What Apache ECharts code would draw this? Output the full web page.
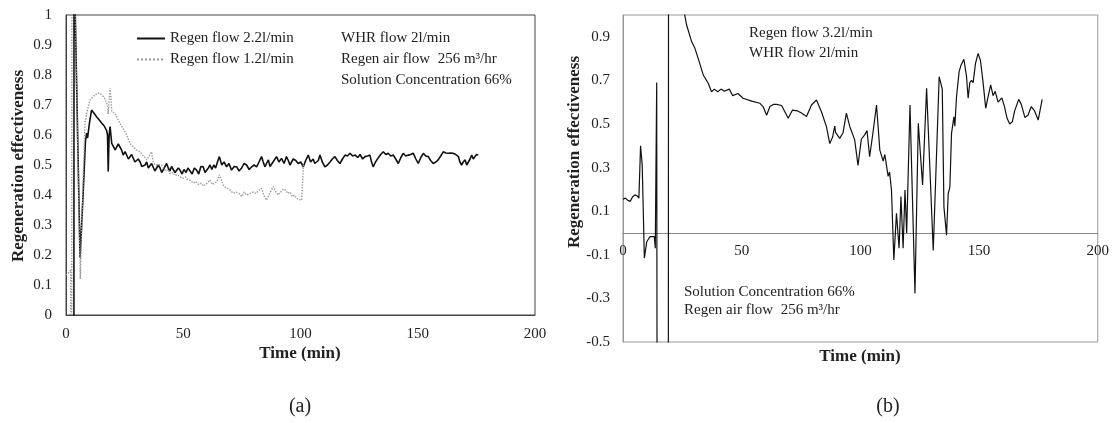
<!DOCTYPE html>
<html>
<head>
<meta charset="utf-8">
<script src="https://cdn.jsdelivr.net/npm/echarts@6/dist/echarts.min.js"></script>
<style>
html, body { margin: 0; padding: 0; background: #fff; }
#chart { width: 1112px; height: 423px; }
</style>
</head>
<body>
<div id="chart"></div>
<script>
// (a) regen flow 2.2 l/min
var flow22Time = [3.3, 3.45, 3.9, 6.0, 7.4, 8.3, 8.8, 9.2, 10.0, 10.9, 11.4, 12.2, 13.1, 14.2, 15.2, 16.3, 17.3, 17.7, 18.0, 18.4,
    18.8, 19.5, 20.2, 21.0, 21.6, 22.3, 23.0, 23.7, 24.4, 25.2, 25.9, 26.6, 27.3, 28.0, 28.7, 29.4, 30.1, 30.8, 31.6, 32.3,
    33.0, 33.7, 34.4, 35.1, 35.8, 36.5, 37.2, 37.9, 38.7, 39.4, 40.1, 40.8, 41.5, 42.2, 42.9, 43.6, 44.3, 45.0, 45.8, 46.5,
    47.2, 47.9, 48.6, 49.5, 50.3, 51.2, 52.0, 52.9, 53.8, 54.7, 55.7, 56.6, 57.5, 58.5, 59.3, 60.0, 60.7, 61.4, 62.2, 63.0,
    63.8, 64.6, 65.4, 66.4, 67.4, 68.5, 69.5, 70.6, 71.7, 72.8, 73.8, 74.9, 75.9, 77.0, 78.1, 79.2, 80.2, 81.3, 82.3, 83.4,
    84.1, 84.8, 85.5, 86.3, 87.0, 87.7, 88.7, 89.8, 90.8, 91.9, 93.0, 94.0, 94.8, 95.5, 96.2, 96.9, 98.0, 99.0, 100.1, 101.2,
    102.2, 103.3, 104.3, 105.4, 106.1, 106.9, 107.6, 108.3, 109.3, 110.4, 111.5, 112.6, 113.6, 114.7, 115.7, 116.8, 117.9, 119.0, 120.0, 121.1,
    122.2, 123.3, 124.4, 125.4, 126.5, 127.5, 128.6, 129.6, 130.3, 131.0, 132.0, 133.0, 134.2, 135.3, 136.4, 137.4, 138.5, 139.6, 140.6, 141.7,
    142.8, 143.8, 144.9, 146.0, 147.0, 148.1, 149.2, 150.2, 151.3, 152.4, 153.4, 154.5, 155.5, 156.6, 157.7, 158.7, 159.8, 160.9, 162.0, 163.0,
    164.0, 165.1, 166.2, 167.3, 168.0, 168.7, 169.4, 170.2, 170.9, 171.6, 172.3, 173.0, 173.7, 174.4, 175.1, 175.8];
var flow22Eff = [-3, 2.5, 1.02, 0.19, 0.42, 0.58, 0.606, 0.59, 0.64, 0.683, 0.68, 0.67, 0.66, 0.65, 0.64, 0.63, 0.615, 0.6, 0.478, 0.6,
    0.628, 0.572, 0.575, 0.55, 0.56, 0.57, 0.572, 0.55, 0.533, 0.545, 0.54, 0.52, 0.517, 0.535, 0.53, 0.51, 0.505, 0.52, 0.51, 0.495,
    0.489, 0.5, 0.51, 0.49, 0.49, 0.505, 0.5, 0.48, 0.483, 0.5, 0.49, 0.475, 0.48, 0.495, 0.505, 0.49, 0.48, 0.495, 0.49, 0.475,
    0.48, 0.49, 0.483, 0.47, 0.485, 0.475, 0.49, 0.48, 0.47, 0.49, 0.483, 0.47, 0.495, 0.494, 0.475, 0.478, 0.49, 0.5, 0.485, 0.5,
    0.49, 0.51, 0.528, 0.5, 0.51, 0.494, 0.505, 0.483, 0.495, 0.494, 0.48, 0.49, 0.505, 0.5, 0.485, 0.494, 0.5, 0.494, 0.51, 0.528,
    0.51, 0.494, 0.505, 0.517, 0.495, 0.5, 0.515, 0.528, 0.51, 0.522, 0.505, 0.528, 0.515, 0.5, 0.51, 0.52, 0.515, 0.505, 0.51, 0.494,
    0.515, 0.533, 0.51, 0.52, 0.505, 0.5, 0.515, 0.533, 0.51, 0.494, 0.5, 0.51, 0.52, 0.528, 0.515, 0.505, 0.52, 0.533, 0.53, 0.539,
    0.53, 0.533, 0.525, 0.535, 0.52, 0.528, 0.53, 0.533, 0.51, 0.494, 0.51, 0.522, 0.535, 0.544, 0.535, 0.539, 0.53, 0.533, 0.52, 0.505,
    0.525, 0.539, 0.53, 0.533, 0.535, 0.539, 0.52, 0.505, 0.525, 0.539, 0.53, 0.528, 0.515, 0.505, 0.51, 0.517, 0.53, 0.544, 0.54, 0.539,
    0.54, 0.539, 0.535, 0.528, 0.51, 0.5, 0.51, 0.517, 0.5, 0.505, 0.52, 0.533, 0.52, 0.528, 0.535, 0.533];

// (a) regen flow 1.2 l/min
var flow12Time = [0, 1.0, 2.0, 2.3, 2.6, 3.9, 6.1, 7.0, 8.1, 8.8, 10.2, 11.6, 12.5, 13.5, 14.5, 15.2, 15.9, 16.6, 17.3, 17.7,
    18.0, 18.4, 18.8, 19.2, 19.5, 20.2, 20.9, 21.6, 22.3, 23.0, 23.7, 24.4, 25.2, 25.9, 26.6, 27.3, 28.0, 28.7, 29.4, 30.1,
    30.8, 31.6, 32.3, 33.0, 33.7, 34.4, 35.1, 35.8, 36.5, 37.2, 37.9, 38.7, 39.4, 40.1, 40.8, 41.5, 42.5, 43.5, 44.5, 45.5,
    46.5, 47.5, 48.6, 49.7, 50.9, 52.0, 53.1, 54.3, 55.4, 56.6, 57.7, 58.5, 59.3, 60.3, 61.4, 62.4, 63.4, 64.4, 65.4, 66.0,
    66.7, 67.4, 68.4, 69.9, 71.3, 72.5, 73.8, 75.0, 76.0, 77.0, 78.5, 79.9, 81.0, 82.2, 83.4, 84.3, 85.5, 86.5, 87.5, 88.4,
    89.5, 90.5, 91.6, 92.7, 93.8, 94.6, 95.5, 96.5, 97.4, 98.3, 99.2, 100.0, 100.5, 101.2, 101.3];
var flow12Eff = [0.133, 0.14, 0.15, -2, 2.5, 1.0, 0.12, 0.38, 0.64, 0.67, 0.717, 0.728, 0.735, 0.74, 0.739, 0.735, 0.728, 0.72, 0.717, 0.7,
    0.67, 0.72, 0.756, 0.72, 0.68, 0.68, 0.672, 0.66, 0.65, 0.64, 0.63, 0.622, 0.61, 0.6, 0.585, 0.572, 0.57, 0.56, 0.56, 0.55,
    0.545, 0.544, 0.535, 0.533, 0.525, 0.517, 0.525, 0.53, 0.544, 0.51, 0.5, 0.505, 0.5, 0.506, 0.5, 0.494, 0.48, 0.485, 0.47, 0.475,
    0.465, 0.468, 0.461, 0.455, 0.46, 0.45, 0.448, 0.44, 0.445, 0.435, 0.44, 0.43, 0.433, 0.44, 0.45, 0.435, 0.44, 0.445, 0.467, 0.472,
    0.44, 0.428, 0.425, 0.417, 0.406, 0.41, 0.405, 0.395, 0.41, 0.4, 0.405, 0.41, 0.405, 0.415, 0.422, 0.4, 0.383, 0.4, 0.415, 0.428,
    0.41, 0.4, 0.41, 0.42, 0.415, 0.405, 0.41, 0.395, 0.4, 0.39, 0.385, 0.39, 0.383, 0.38, 0.505];

// (b) regen flow 3.2 l/min
var flow32Time = [0, 1, 2, 3, 4, 5, 6, 6.7, 7.4, 8.1, 9.0, 10.0, 11.4, 13.2, 13.6, 14.2, 14.6, 19.0, 19.3, 26.0,
    26.8, 28.9, 30.3, 31.7, 33.8, 35.9, 37.3, 38.5, 39.9, 41.3, 42.7, 44.8, 46.2, 48.4, 50.6, 54.2, 57.7, 59.0, 60.5, 61.9,
    63.3, 64.7, 66.8, 67.5, 69.6, 71.4, 73.6, 75.2, 77.3, 79.4, 81.5, 83.6, 85.7, 87.1, 88.3, 89.2, 89.6, 91.3, 92.7, 94.1,
    95.5, 97.6, 99.0, 100.4, 101.8, 102.8, 103.9, 105.3, 106.8, 108.2, 109.6, 110.3, 111.7, 112.3, 113.1, 114.1, 115.2, 116.3, 117.1, 118.0,
    118.8, 119.5, 120.9, 123.0, 124.4, 126.2, 127.9, 130.7, 133.2, 134.5, 135.2, 136.3, 137.0, 137.7, 138.4, 139.4, 139.8, 140.5, 141.6, 142.4,
    143.6, 144.7, 145.4, 146.1, 146.8, 147.5, 148.5, 149.6, 150.6, 151.6, 152.8, 153.7, 154.9, 155.9, 156.8, 158.0, 159.6, 160.7, 161.8, 162.9,
    164.0, 165.0, 166.7, 167.8, 169.3, 170.6, 172.0, 173.4, 174.9, 176.6];
var flow32Eff = [0.155, 0.16, 0.15, 0.145, 0.165, 0.175, 0.17, 0.16, 0.40, 0.31, -0.115, -0.04, -0.017, -0.017, -0.07, 0.69, -3, -3, 4, 1.0,
    0.954, 0.878, 0.847, 0.80, 0.725, 0.687, 0.648, 0.66, 0.648, 0.66, 0.65, 0.66, 0.63, 0.64, 0.618, 0.605, 0.595, 0.58, 0.54, 0.58,
    0.59, 0.59, 0.585, 0.58, 0.526, 0.564, 0.56, 0.55, 0.534, 0.587, 0.61, 0.556, 0.488, 0.41, 0.44, 0.49, 0.46, 0.434, 0.46, 0.55,
    0.49, 0.427, 0.31, 0.43, 0.45, 0.47, 0.35, 0.46, 0.587, 0.38, 0.33, 0.36, 0.26, 0.28, 0.197, -0.124, 0.09, -0.07, 0.167, -0.07,
    0.197, 0.0, 0.587, -0.277, 0.503, 0.22, 0.664, -0.08, 0.717, 0.66, 0.12, -0.01, 0.18, 0.21, 0.457, 0.533, 0.49, 0.625, 0.74, 0.77,
    0.797, 0.72, 0.618, 0.69, 0.70, 0.69, 0.778, 0.824, 0.79, 0.70, 0.572, 0.62, 0.679, 0.63, 0.65, 0.60, 0.62, 0.58, 0.526, 0.50,
    0.51, 0.56, 0.613, 0.59, 0.53, 0.54, 0.58, 0.56, 0.518, 0.613];

var notesA = ['WHR flow 2l/min', 'Regen air flow  256 m\u00b3/hr', 'Solution Concentration 66%'];
var notesBTop = ['Regen flow 3.2l/min', 'WHR flow 2l/min'];
var notesBBottom = ['Solution Concentration 66%', 'Regen air flow  256 m\u00b3/hr'];

var FONT = '"Liberation Serif", "Times New Roman", serif';

// 把两列数组拼成[x, y]
function pairs(xs, ys) {
    var out = [];
    for (var i = 0; i < xs.length; i++) {
        out.push([xs[i], ys[i]]);
    }
    return out;
}

function noteText(x, y, text, extra) {
    var st = {
        text: text,
        font: '15px ' + FONT,
        fill: '#222',
        textAlign: 'left',
        textVerticalAlign: 'middle'
    };
    for (var k in extra) st[k] = extra[k];
    return { type: 'text', x: x, y: y, silent: true, style: st };
}

var graphics = [];
for (var i = 0; i < notesA.length; i++) {
    graphics.push(noteText(341, 38 + i * 21, notesA[i]));
}
for (var j = 0; j < notesBTop.length; j++) {
    graphics.push(noteText(749, 33 + j * 20, notesBTop[j]));
}
for (var n = 0; n < notesBBottom.length; n++) {
    graphics.push(noteText(684, 292 + n * 18, notesBBottom[n]));
}
// 轴标题与图注
graphics.push(noteText(19, 166, 'Regeneration effectiveness', { font: 'bold 17px ' + FONT, textAlign: 'center' }));
graphics[graphics.length - 1].rotation = Math.PI / 2;
graphics.push(noteText(575, 152, 'Regeneration effectiveness', { font: 'bold 17px ' + FONT, textAlign: 'center' }));
graphics[graphics.length - 1].rotation = Math.PI / 2;
graphics.push(noteText(300, 354, 'Time (min)', { font: 'bold 17px ' + FONT, textAlign: 'center' }));
graphics.push(noteText(860, 357, 'Time (min)', { font: 'bold 17px ' + FONT, textAlign: 'center' }));
graphics.push(noteText(300, 407, '(a)', { font: '20px ' + FONT, textAlign: 'center' }));
graphics.push(noteText(888, 407, '(b)', { font: '20px ' + FONT, textAlign: 'center' }));

var axisText = { fontFamily: FONT, fontSize: 15, color: '#222' };

var option = {
    animation: false,
    backgroundColor: '#fff',
    grid: [
        { left: 66, top: 15, width: 469, height: 300, show: true, borderColor: '#444', borderWidth: 1 },
        { left: 623, top: 15, width: 475, height: 327, show: true, borderColor: '#999', borderWidth: 1 }
    ],
    legend: {
        data: ['Regen flow 2.2l/min', 'Regen flow 1.2l/min'],
        orient: 'vertical',
        left: 136,
        top: 31,
        padding: 0,
        itemWidth: 28,
        itemHeight: 14,
        itemGap: 6,
        itemStyle: { opacity: 0 },
        textStyle: { fontFamily: FONT, fontSize: 15, color: '#222' }
    },
    xAxis: [
        {
            gridIndex: 0, type: 'value', min: 0, max: 200, interval: 50,
            splitLine: { show: false },
            axisTick: { show: false },
            axisLine: { lineStyle: { color: '#444' } },
            axisLabel: Object.assign({ margin: 12 }, axisText)
        },
        {
            // 零线处的横轴（-0.5 到 1.0 共 327px，零点离底边 109px）
            gridIndex: 1, type: 'value', min: 0, max: 200, interval: 50,
            offset: -109,
            splitLine: { show: false },
            axisTick: { show: false },
            axisLine: { onZero: false, lineStyle: { color: '#888' } },
            axisLabel: Object.assign({ margin: 11 }, axisText)
        }
    ],
    yAxis: [
        {
            gridIndex: 0, type: 'value', min: 0, max: 1, interval: 0.1,
            splitLine: { show: false },
            axisTick: { show: false },
            axisLine: { show: true, lineStyle: { color: '#444' } },
            axisLabel: Object.assign({ margin: 14 }, axisText)
        },
        {
            gridIndex: 1, type: 'value', min: -0.5, max: 1.0, interval: 0.1,
            splitLine: { show: false },
            axisTick: { show: false },
            axisLine: { show: true, onZero: false, lineStyle: { color: '#999' } },
            axisLabel: Object.assign({
                margin: 13,
                formatter: function (v) {
                    var t = Math.round(v * 10);
                    if (t % 2 === 0) return '';
                    return (t / 10).toFixed(1);
                }
            }, axisText)
        }
    ],
    series: [
        {
            name: 'Regen flow 2.2l/min', type: 'line', xAxisIndex: 0, yAxisIndex: 0,
            symbol: 'none', data: pairs(flow22Time, flow22Eff),
            lineStyle: { color: '#111', width: 1.6 }, itemStyle: { color: '#111' }
        },
        {
            name: 'Regen flow 1.2l/min', type: 'line', xAxisIndex: 0, yAxisIndex: 0,
            symbol: 'none', data: pairs(flow12Time, flow12Eff),
            lineStyle: { color: '#999', width: 1.4, type: 'dotted' }, itemStyle: { color: '#999' }
        },
        {
            name: 'Regen flow 3.2l/min', type: 'line', xAxisIndex: 1, yAxisIndex: 1,
            symbol: 'none', data: pairs(flow32Time, flow32Eff),
            lineStyle: { color: '#111', width: 1.2 }
        }
    ],
    graphic: graphics
};

var chart = echarts.init(document.getElementById('chart'));
chart.setOption(option);
</script>
</body>
</html>
